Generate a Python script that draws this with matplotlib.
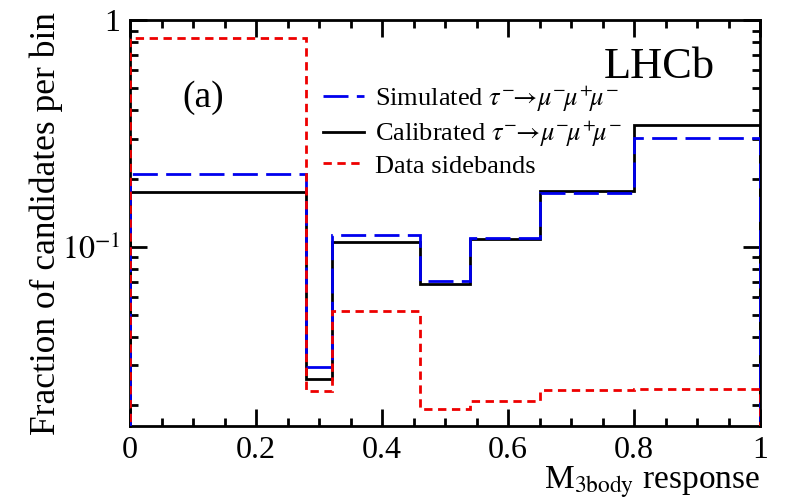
"""Fracción de candidatos por bin de la respuesta M_3body (estilo LHCb)."""
import matplotlib
matplotlib.use("Agg")
import matplotlib.pyplot as plt
from matplotlib.ticker import FixedLocator, FixedFormatter
from matplotlib.lines import Line2D

plt.rcParams["font.family"] = ["Liberation Serif", "DejaVu Serif"]
plt.rcParams["mathtext.fontset"] = "stix"

# bordes de bin y contenidos
bin_edges = [0.0, 0.28, 0.32, 0.46, 0.54, 0.65, 0.80, 1.0]
simulated = [0.210, 0.0294, 0.113, 0.0708, 0.109, 0.172, 0.303]
calibrated = [0.175, 0.0261, 0.1045, 0.0685, 0.108, 0.177, 0.343]
sidebands = [0.836, 0.0232, 0.0523, 0.0193, 0.0209, 0.0234, 0.0236]

labels = [
    r"Simulated $\tau^{-}\!\!\rightarrow\!\mu^{-}\!\mu^{+}\!\mu^{-}$",
    r"Calibrated $\tau^{-}\!\!\rightarrow\!\mu^{-}\!\mu^{+}\!\mu^{-}$",
    "Data sidebands",
]
x_ticks = [0, 0.2, 0.4, 0.6, 0.8, 1.0]
x_tick_labels = ["0", "0.2", "0.4", "0.6", "0.8", "1"]

YMIN, YMAX = 0.0162, 1.0

fig = plt.figure(figsize=(7.86, 5.04), dpi=100)
ax = fig.add_axes([0.1654, 0.1548, 0.8016, 0.8052])

blue_dash = (0, (9, 3))
red_dash = (0, (3, 2))

ax.stairs(calibrated, bin_edges, baseline=1e-4, color="black", lw=2.0, zorder=2)
ax.stairs(simulated, bin_edges, baseline=1e-4, color="#0000ee", lw=2.0,
          linestyle=blue_dash, zorder=3)
ax.stairs(sidebands, bin_edges, baseline=1e-4, color="#ee0000", lw=2.0,
          linestyle=red_dash, zorder=4)

ax.set_yscale("log")
ax.set_xlim(0, 1)
ax.set_ylim(YMIN, YMAX)

ax.xaxis.set_major_locator(FixedLocator(x_ticks))
ax.xaxis.set_major_formatter(FixedFormatter(x_tick_labels))
ax.xaxis.set_minor_locator(FixedLocator([k * 0.05 for k in range(21)]))

ax.yaxis.set_major_locator(FixedLocator([0.1, 1.0]))
ax.yaxis.set_major_formatter(FixedFormatter([r"$10^{-1}$", "1"]))
minors = [k * 0.01 for k in range(2, 10)] + [k * 0.1 for k in range(2, 10)]
ax.yaxis.set_minor_locator(FixedLocator(minors))
ax.yaxis.set_minor_formatter(FixedFormatter([""] * len(minors)))

ax.tick_params(which="both", direction="in", top=True, right=True,
               labelsize=23, width=2, pad=7)
ax.tick_params(which="major", length=12)
ax.tick_params(which="minor", length=6)
for s in ax.spines.values():
    s.set_linewidth(2)

ax.set_ylabel("Fraction of candidates per bin", fontsize=25.5, labelpad=-1)
ax.set_xlabel(r"M$_{\mathrm{3body}}$ response", fontsize=24, loc="right", labelpad=0)

ax.text(0.929, 0.885, "LHCb", transform=ax.transAxes, fontsize=32,
        ha="right", va="center")
ax.text(0.116, 0.81, "(a)", transform=ax.transAxes, fontsize=27,
        ha="center", va="center")

handles = [
    Line2D([], [], color="#0000ee", lw=2.0, linestyle=blue_dash),
    Line2D([], [], color="black", lw=2.0),
    Line2D([], [], color="#ee0000", lw=2.0, linestyle=red_dash),
]
ax.legend(handles, labels, loc="upper left", bbox_to_anchor=(0.29, 0.87),
          frameon=False, fontsize=19, handlelength=1.55, handletextpad=0.4,
          labelspacing=0.2, borderaxespad=0)

fig.savefig("out.png", dpi=100)
